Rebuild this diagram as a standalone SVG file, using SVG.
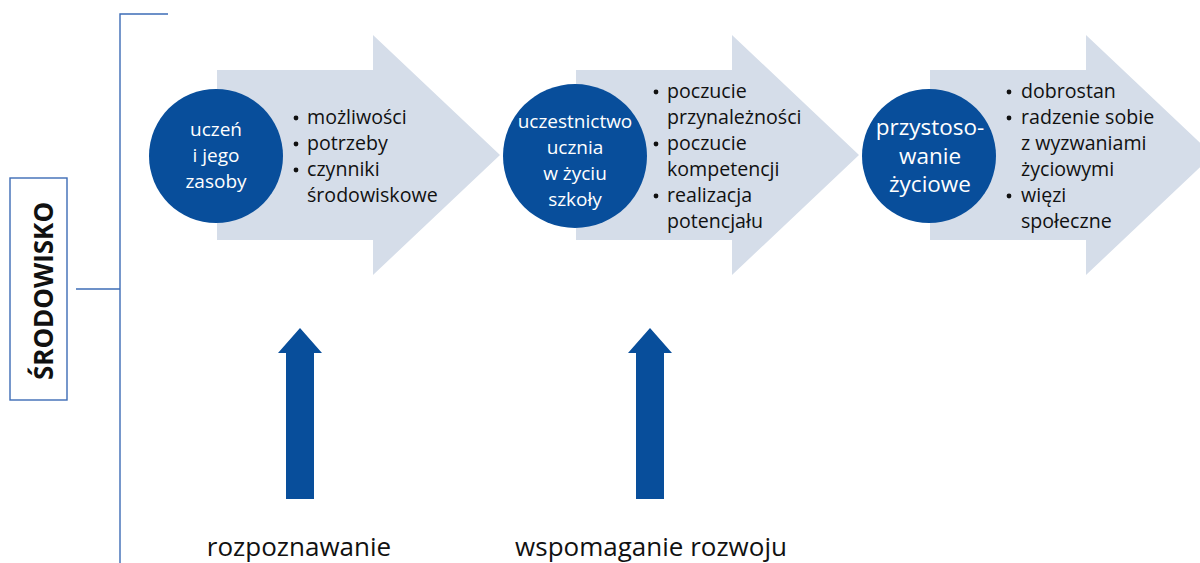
<svg xmlns="http://www.w3.org/2000/svg" width="1200" height="563" viewBox="0 0 1200 563">
<style>
.frame{fill:none;stroke:#3d6cb6;stroke-width:1.4}
.big{fill:#d5dde9}
.circ{fill:#084e9b}
.up{fill:#084e9b}
.dot{fill:#111111}
.ct{font-family:"Open Sans",sans-serif;font-size:19px;fill:#ffffff;text-anchor:middle}
.ct3{font-family:"Open Sans",sans-serif;font-size:22.5px;fill:#ffffff;text-anchor:middle}
.lt{font-family:"Open Sans",sans-serif;font-size:19.6px;fill:#111111}
.bt{font-family:"Open Sans",sans-serif;font-size:26px;fill:#111111;text-anchor:middle}
.env{font-family:"Open Sans",sans-serif;font-size:26px;font-weight:bold;fill:#111111;text-anchor:middle}
</style>
<defs>
<path id="bigArrow" d="M0,35 H156 V0 L283,120 L156,240 V205 H0 Z"/>
<path id="upArrow" d="M8,25 H0 L22,0 L44,25 H36 V171 H8 Z"/>
</defs>
<g id="connectors">
<polyline class="frame" points="168,14 120,14 120,563"/>
<line class="frame" x1="76" y1="289" x2="120" y2="289"/>
<use href="#bigArrow" class="big" x="217" y="35"/>
<use href="#bigArrow" class="big" x="576" y="35"/>
<use href="#bigArrow" class="big" x="930" y="35"/>
<use href="#upArrow" class="up" x="278" y="328"/>
<use href="#upArrow" class="up" x="628" y="328"/>
</g>
<g id="env">
<rect class="frame" x="10" y="178" width="57" height="222"/>
<text class="env" transform="translate(53,291) rotate(-90)">ŚRODOWISKO</text>
</g>
<g id="node1">
<circle class="circ" cx="216" cy="156" r="67"/>
<text class="ct" x="216" y="136">uczeń</text>
<text class="ct" x="216" y="162">i jego</text>
<text class="ct" x="216" y="188">zasoby</text>
</g>
<g id="list1">
<circle class="dot" cx="296" cy="118" r="2.4"/><text class="lt" x="307" y="124">możliwości</text>
<circle class="dot" cx="296" cy="144" r="2.4"/><text class="lt" x="307" y="150">potrzeby</text>
<circle class="dot" cx="296" cy="170" r="2.4"/><text class="lt" x="307" y="176">czynniki</text>
<text class="lt" x="307" y="202">środowiskowe</text>
</g>
<g id="node2">
<circle class="circ" cx="575" cy="156" r="72"/>
<text class="ct" x="575" y="128">uczestnictwo</text>
<text class="ct" x="575" y="154">ucznia</text>
<text class="ct" x="575" y="180">w życiu</text>
<text class="ct" x="575" y="206">szkoły</text>
</g>
<g id="list2">
<circle class="dot" cx="656" cy="92" r="2.4"/><text class="lt" x="667" y="98">poczucie</text>
<text class="lt" x="667" y="124">przynależności</text>
<circle class="dot" cx="656" cy="144" r="2.4"/><text class="lt" x="667" y="150">poczucie</text>
<text class="lt" x="667" y="176">kompetencji</text>
<circle class="dot" cx="656" cy="196" r="2.4"/><text class="lt" x="667" y="202">realizacja</text>
<text class="lt" x="667" y="228">potencjału</text>
</g>
<g id="node3">
<circle class="circ" cx="929" cy="156" r="67"/>
<text class="ct3" x="930" y="135">przystoso-</text>
<text class="ct3" x="930" y="164">wanie</text>
<text class="ct3" x="930" y="192">życiowe</text>
</g>
<g id="list3">
<circle class="dot" cx="1009" cy="92" r="2.4"/><text class="lt" x="1021" y="98">dobrostan</text>
<circle class="dot" cx="1009" cy="118" r="2.4"/><text class="lt" x="1021" y="124">radzenie sobie</text>
<text class="lt" x="1021" y="150">z wyzwaniami</text>
<text class="lt" x="1021" y="176">życiowymi</text>
<circle class="dot" cx="1009" cy="196" r="2.4"/><text class="lt" x="1021" y="202">więzi</text>
<text class="lt" x="1021" y="228">społeczne</text>
</g>
<g id="label1"><text class="bt" x="299" y="556">rozpoznawanie</text></g>
<g id="label2"><text class="bt" x="651" y="556">wspomaganie rozwoju</text></g>
</svg>
